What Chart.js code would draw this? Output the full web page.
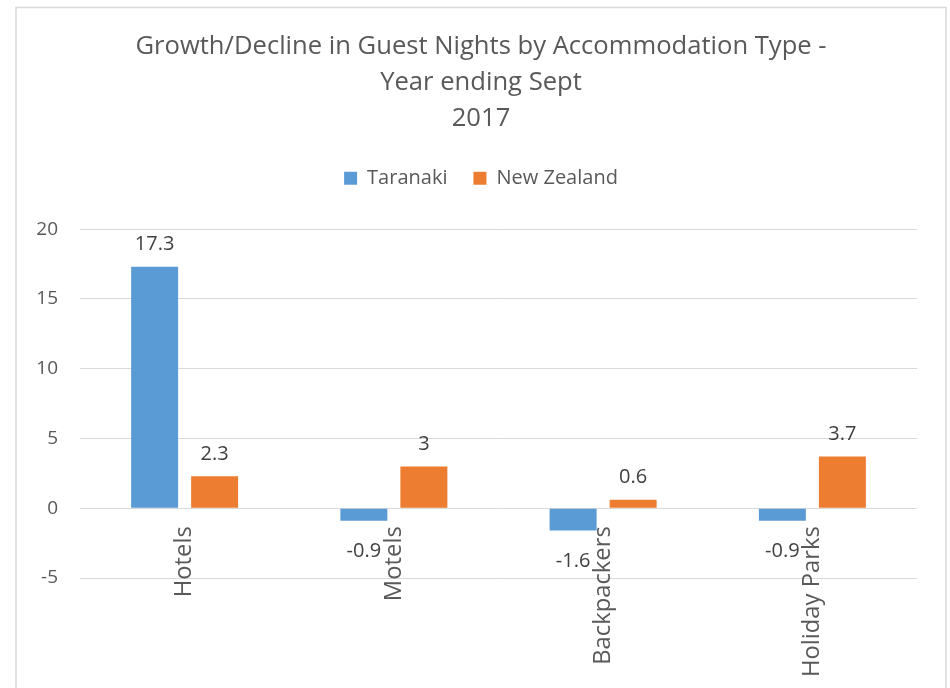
<!DOCTYPE html>
<html>
<head>
<meta charset="utf-8">
<script src="https://cdn.jsdelivr.net/npm/chart.js@4/dist/chart.umd.min.js"></script>
<style>
  html, body { margin: 0; padding: 0; background: #ffffff; }
  #wrap { width: 950px; height: 688px; position: relative; }
</style>
</head>
<body>
<div id="wrap"><canvas id="chart" width="950" height="688"></canvas></div>
<script>
const titleLines = ['Growth/Decline in Guest Nights by Accommodation Type -', 'Year ending Sept', '2017'];
const categories = ['Hotels', 'Motels', 'Backpackers', 'Holiday Parks'];
const seriesNames = ['Taranaki', 'New Zealand'];
const taranaki = [17.3, -0.9, -1.6, -0.9];
const newZealand = [2.3, 3, 0.6, 3.7];
const yMin = -5;
const yMax = 20;
const yStep = 5;

Chart.defaults.font.family = "'Open Sans', sans-serif";
Chart.defaults.color = '#595959';

const frame = {
  id: 'frame',
  beforeDraw(chart) {
    const ctx = chart.ctx;
    ctx.save();
    ctx.fillStyle = '#ffffff';
    ctx.fillRect(0, 0, chart.width, chart.height);
    ctx.strokeStyle = '#D9D9D9';
    ctx.lineWidth = 1.5;
    ctx.strokeRect(16, 7.5, 930, 720);
    ctx.restore();
  }
};

// empty layout box that keeps a gap between the legend and the plot
const legendGap = {
  id: 'legendGap',
  beforeInit(chart) {
    const box = {
      position: 'top',
      weight: 500,
      fullSize: true,
      options: {},
      left: 0, top: 0, right: 0, bottom: 0, width: 0, height: 0,
      isHorizontal() { return true; },
      update(maxWidth) { this.width = maxWidth; this.height = 31; return this; },
      draw() {}
    };
    Chart.layouts.addBox(chart, box);
  }
};

const valueLabels = {
  id: 'valueLabels',
  afterDatasetsDraw(chart) {
    const ctx = chart.ctx;
    ctx.save();
    ctx.font = "20px 'Open Sans', sans-serif";
    ctx.fillStyle = '#404040';
    ctx.textAlign = 'center';
    ctx.textBaseline = 'alphabetic';
    chart.data.datasets.forEach((ds, di) => {
      const meta = chart.getDatasetMeta(di);
      meta.data.forEach((bar, i) => {
        const v = ds.data[i];
        const y = v >= 0 ? bar.y - 16.5 : bar.y + 36;
        ctx.fillText(String(v), bar.x, y);
      });
    });
    ctx.restore();
  }
};

new Chart(document.getElementById('chart'), {
  type: 'bar',
  data: {
    labels: categories,
    datasets: [
      { label: seriesNames[0], data: taranaki, backgroundColor: '#5B9BD5', borderWidth: 0,
        categoryPercentage: 0.5735, barPercentage: 0.783 },
      { label: seriesNames[1], data: newZealand, backgroundColor: '#ED7D31', borderWidth: 0,
        categoryPercentage: 0.5735, barPercentage: 0.783 }
    ]
  },
  options: {
    responsive: false,
    animation: false,
    layout: { padding: { top: 0, left: 16, right: 4, bottom: 110 } },
    plugins: {
      title: {
        display: true,
        text: titleLines,
        color: '#595959',
        font: { size: 25.6, weight: 'normal', lineHeight: 1.41 },
        padding: { top: 28.6, bottom: 5.3 }
      },
      legend: {
        display: true,
        position: 'top',
        labels: {
          boxWidth: 13,
          boxHeight: 13,
          padding: 26,
          color: '#595959',
          font: { size: 20 }
        }
      },
      tooltip: { enabled: false }
    },
    scales: {
      x: {
        position: { y: 0 },
        grid: { display: false, drawTicks: false },
        border: { display: false },
        ticks: {
          minRotation: 90,
          maxRotation: 90,
          autoSkip: false,
          padding: 18,
          color: '#595959',
          font: { size: 23.8 }
        }
      },
      y: {
        min: yMin,
        max: yMax,
        grid: { color: '#D9D9D9', lineWidth: 1, drawTicks: false },
        border: { display: false },
        ticks: {
          stepSize: yStep,
          padding: 22,
          color: '#595959',
          font: { size: 19 }
        },
        afterFit(scale) { scale.width = 64; }
      },
      y2: {
        position: 'right',
        display: true,
        grid: { display: false, drawTicks: false },
        border: { display: false },
        ticks: { display: false },
        afterFit(scale) { scale.width = 29; }
      }
    }
  },
  plugins: [frame, legendGap, valueLabels]
});
</script>
</body>
</html>
